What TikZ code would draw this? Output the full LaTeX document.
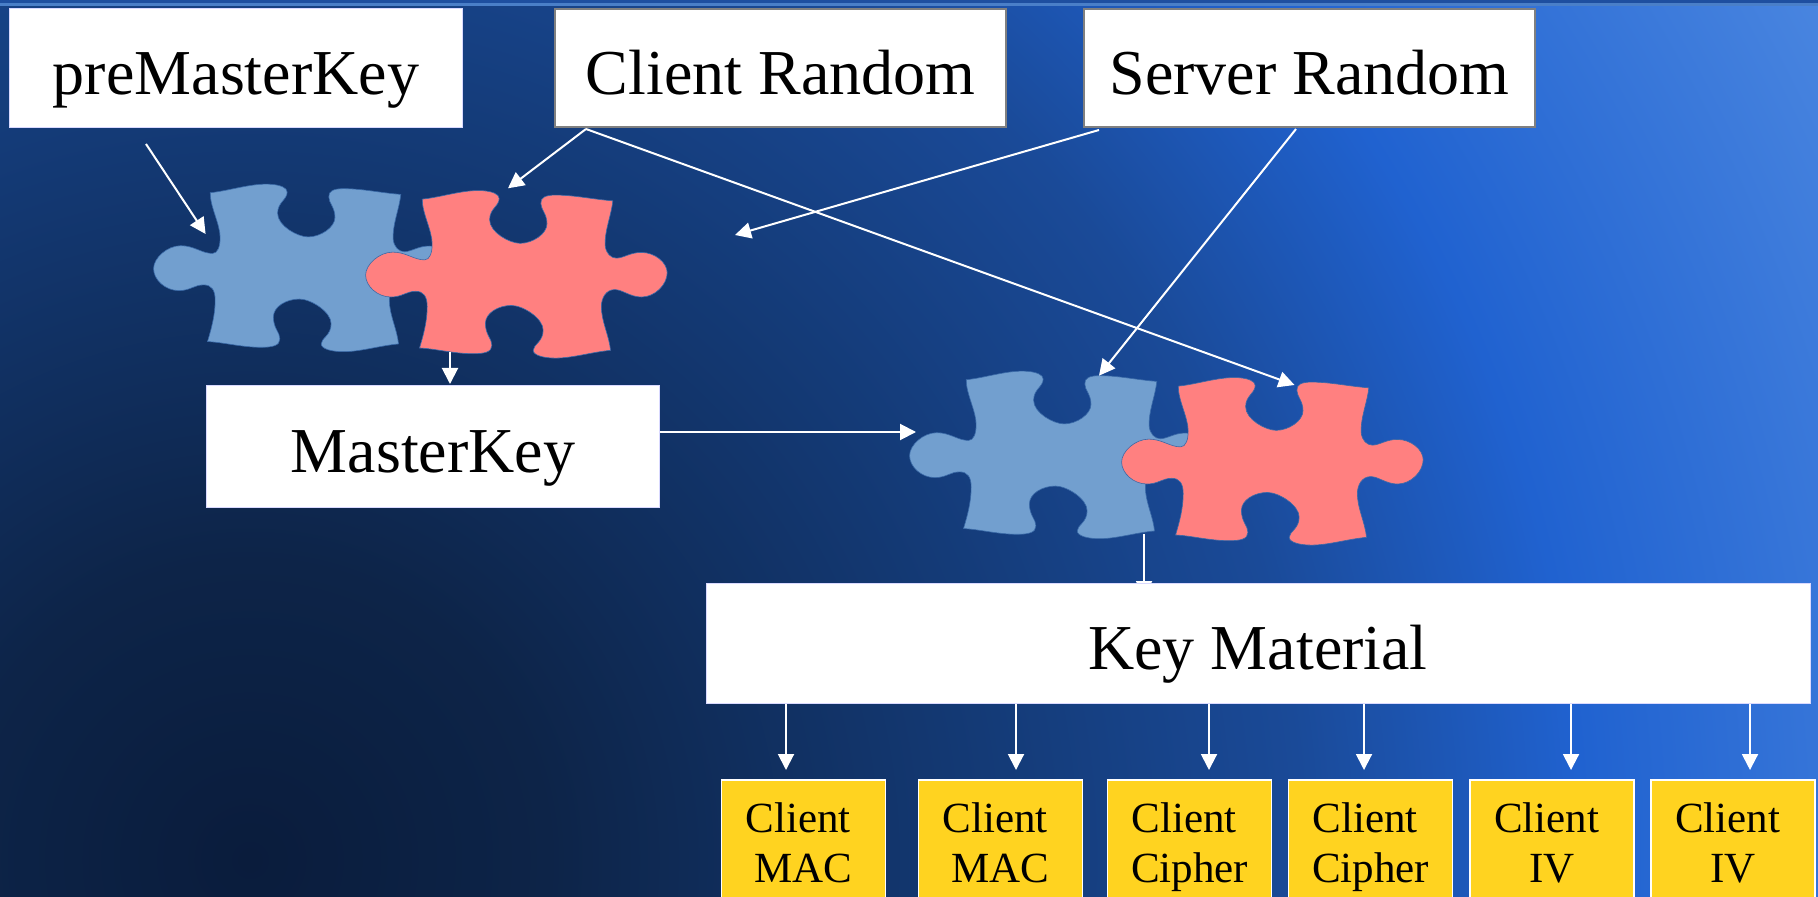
\documentclass[tikz,border=0pt]{standalone}
\usepackage{fontspec}
\setmainfont{Liberation Serif}
\usetikzlibrary{arrows.meta}
\definecolor{bga}{HTML}{0A1C3C}
\definecolor{bgb}{HTML}{0D2448}
\definecolor{bgc}{HTML}{143B78}
\definecolor{bgd}{HTML}{1A4A98}
\definecolor{bge}{HTML}{2062D0}
\definecolor{bgf}{HTML}{4A86E0}
\definecolor{stripdark}{HTML}{1E4FA0}
\definecolor{striplight}{HTML}{4A7FC8}
\definecolor{pieceblue}{HTML}{729FCF}
\definecolor{piecered}{HTML}{FF8080}
\definecolor{pieceline}{HTML}{3A6AA8}
\definecolor{keyyellow}{HTML}{FFD320}
\pgfdeclareradialshading{bgshade}{\pgfpoint{0bp}{0bp}}{
  color(0bp)=(bga); color(4.15bp)=(bgb); color(10.55bp)=(bgc);
  color(14.6bp)=(bgd); color(18.5bp)=(bge); color(25bp)=(bgf); color(50bp)=(bgf)}
\def\piecepath{(842,237)
 .. controls (890,232) and (950,208) .. (1000,212)
 .. controls (1025,214) and (1043,222) .. (1043,235)
 .. controls (1043,258) and (1018,265) .. (1018,298)
 .. controls (1018,335) and (1070,368) .. (1098,368)
 .. controls (1130,368) and (1168,340) .. (1168,310)
 .. controls (1168,280) and (1152,268) .. (1152,250)
 .. controls (1150,232) and (1165,225) .. (1190,225)
 .. controls (1240,225) and (1290,238) .. (1340,242)
 .. controls (1335,290) and (1318,330) .. (1320,375)
 .. controls (1322,398) and (1335,412) .. (1350,412)
 .. controls (1372,410) and (1385,395) .. (1415,395)
 .. controls (1450,395) and (1482,425) .. (1482,455)
 .. controls (1482,490) and (1450,527) .. (1415,527)
 .. controls (1385,527) and (1365,505) .. (1345,505)
 .. controls (1322,505) and (1310,530) .. (1310,555)
 .. controls (1310,600) and (1330,640) .. (1334,685)
 .. controls (1285,690) and (1235,708) .. (1190,708)
 .. controls (1160,708) and (1132,700) .. (1132,685)
 .. controls (1132,668) and (1158,660) .. (1158,625)
 .. controls (1158,590) and (1105,552) .. (1075,552)
 .. controls (1040,552) and (1007,575) .. (1007,605)
 .. controls (1007,640) and (1024,650) .. (1024,670)
 .. controls (1024,690) and (1005,695) .. (975,695)
 .. controls (925,695) and (875,680) .. (835,678)
 .. controls (845,640) and (855,600) .. (855,555)
 .. controls (855,525) and (845,510) .. (825,510)
 .. controls (800,510) and (790,527) .. (760,527)
 .. controls (725,527) and (694,495) .. (694,462)
 .. controls (694,430) and (730,394) .. (765,394)
 .. controls (800,394) and (820,417) .. (848,417)
 .. controls (862,417) and (868,395) .. (868,370)
 .. controls (868,330) and (842,280) .. (842,237) -- cycle}
\newcommand{\linefix}{\vphantom{Cg}}
\tikzset{
  arrowline/.style={draw=white,line width=1pt,-{Triangle[length=8pt,width=8pt]}},
  keybox/.style={rectangle,fill=white,inner sep=0pt,font=\fontsize{32}{36}\selectfont,text height=30pt,text depth=4pt,text=black},
  framedbox/.style={keybox,draw=black!50,line width=1pt},
  plainbox/.style={keybox,draw=white!85!blue,line width=.5pt},
  yellowbox/.style={rectangle,fill=keyyellow,draw=white,line width=.8pt,inner sep=0pt,anchor=north,minimum width=82pt,minimum height=67.85pt,font=\fontsize{21.5}{25}\selectfont,align=center,text=black},
  redpiece/.style={fill=piecered,draw=pieceline,line width=.3pt},
  bluepiece/.style={fill=pieceblue,draw=pieceline,line width=.3pt}
}
\begin{document}
\begin{tikzpicture}[x=.5pt,y=-.5pt]
\useasboundingbox (0,0) rectangle (1818,897);
\clip (0,0) rectangle (1818,897);
\shade[shading=bgshade] (250,860) circle [radius=1800];
\fill[stripdark] (0,0) rectangle (1818,3);
\fill[striplight] (0,3) rectangle (1818,6);
% puzzle pieces
\begin{scope}[shift={(100,119.15)},xscale=.3827,yscale=.3375]
  \draw[bluepiece,shift={(-554,-19)}] \piecepath;
  \draw[redpiece] \piecepath;
\end{scope}
\begin{scope}[shift={(856,306.15)},xscale=.3827,yscale=.3375]
  \draw[bluepiece,shift={(-554,-19)}] \piecepath;
  \draw[redpiece] \piecepath;
\end{scope}
% connector ends
\coordinate (pmStart) at (146,144);
\coordinate (pieceA) at (205.6,234);
\coordinate (crStart) at (586,129);
\coordinate (redA) at (508,188.3);
\coordinate (redB) at (1294.5,385);
\coordinate (srStartA) at (1099,130);
\coordinate (freeEnd) at (735,235);
\coordinate (srStartB) at (1296,129);
\coordinate (blueB) at (1099,375.7);
\coordinate (pairAOut) at (450,352);
\coordinate (pairBOut) at (1144,534);
\coordinate (pairBIn) at (916,432);
\path (450,384) coordinate (mkTop) (1144,597) coordinate (kmTop);
\foreach \n/\x in {a/786,b/1016,c/1209,d/1364,e/1571,f/1750}{
  \coordinate (top\n) at (\x,703);
  \coordinate (tip\n) at (\x,770);
  \draw[arrowline] (top\n) -- (tip\n);
}
\draw[arrowline] (pmStart) -- (pieceA);
\draw[arrowline] (crStart) -- (redA);
\draw[arrowline] (crStart) -- (redB);
\draw[arrowline] (srStartA) -- (freeEnd);
\draw[arrowline] (srStartB) -- (blueB);
\draw[arrowline] (pairAOut) -- (mkTop);
\draw[arrowline] (pairBOut) -- (kmTop);
% boxes
\node[plainbox,minimum width=226.5pt,minimum height=59.5pt] (pm) at (236,68.5) {preMasterKey};
\node[framedbox,minimum width=225.5pt,minimum height=59pt] (cr) at (780.5,68.5) {Client Random};
\node[framedbox,minimum width=225.5pt,minimum height=59pt] (sr) at (1309.5,68.5) {Server Random};
\node[plainbox,minimum width=226.5pt,minimum height=60.5pt] (mk) at (433,446.5) {MasterKey};
\node[plainbox,minimum width=552pt,minimum height=60pt] (km) at (1258,643) {Key Material};
\draw[arrowline] (mk.east |- pairBIn) -- (pairBIn);
% output boxes
\node[yellowbox] (o1) at (803.5,779) {Client\ \mbox{}\linefix\\MAC\linefix};
\node[yellowbox] (o2) at (1000.5,779) {Client\ \mbox{}\linefix\\MAC\linefix};
\node[yellowbox] (o3) at (1189.5,779) {Client\ \mbox{}\linefix\\Cipher\linefix};
\node[yellowbox] (o4) at (1370.5,779) {Client\ \mbox{}\linefix\\Cipher\linefix};
\node[yellowbox] (o5) at (1552,779) {Client\ \mbox{}\linefix\\IV\linefix};
\node[yellowbox] (o6) at (1733,779) {Client\ \mbox{}\linefix\\IV\linefix};
\end{tikzpicture}
\end{document}
